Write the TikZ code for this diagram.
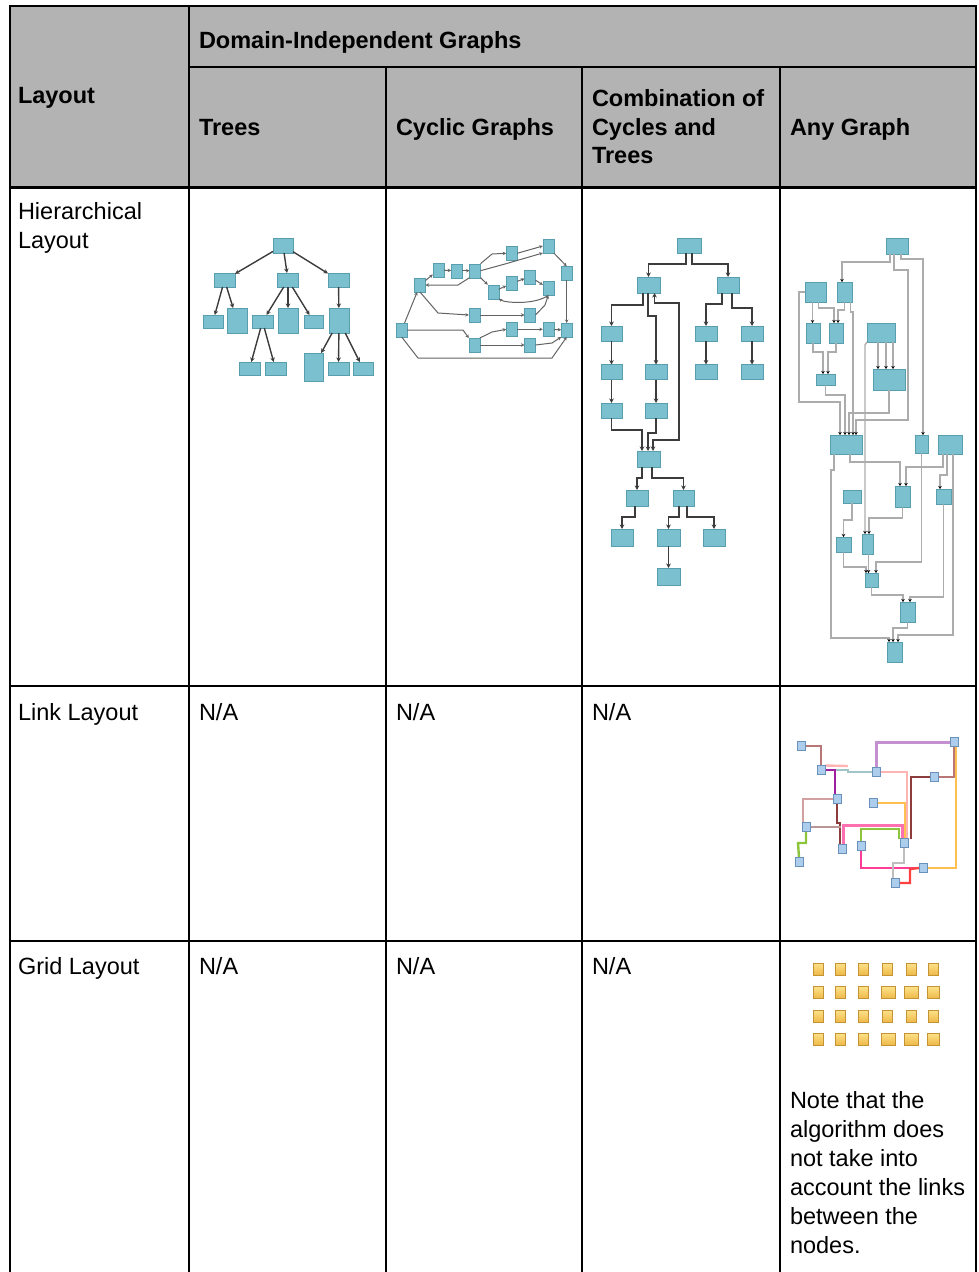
\documentclass[tikz,border=0pt]{standalone}
\usepackage{fontspec}
\setmainfont{Liberation Sans}
\usetikzlibrary{arrows.meta,shadows}

\definecolor{hdrgray}{RGB}{179,179,179}
\definecolor{hnfill}{RGB}{122,192,206}
\definecolor{hnline}{RGB}{88,158,174}
\definecolor{edgedark}{RGB}{60,60,60}
\definecolor{lnfill}{RGB}{172,206,236}
\definecolor{lnline}{RGB}{105,145,185}
\definecolor{goldtop}{RGB}{253,226,138}
\definecolor{goldbot}{RGB}{238,184,72}
\definecolor{goldline}{RGB}{196,148,52}
\definecolor{lkbrown}{RGB}{185,118,118}
\definecolor{lkteal}{RGB}{160,196,200}
\definecolor{lkpurple}{RGB}{160,32,160}
\definecolor{lkviolet}{RGB}{196,144,210}
\definecolor{lkpink}{RGB}{255,180,180}
\definecolor{lkdbrown}{RGB}{140,60,60}
\definecolor{lkorange}{RGB}{255,192,80}
\definecolor{lkrose}{RGB}{210,160,160}
\definecolor{lkgreen}{RGB}{140,196,60}
\definecolor{lkhot}{RGB}{255,112,176}
\definecolor{lkmag}{RGB}{255,60,150}
\definecolor{lkgray}{RGB}{190,190,190}
\definecolor{lkred}{RGB}{255,64,64}

\newcommand{\hb}[5]{\node[hn, minimum width=#4pt, minimum height=#5pt] (#1) at (#2,#3) {};}
\newcommand{\lb}[3]{\node[ln] (#1) at (#2,#3) {};}
\newcommand{\gb}[4]{\node[gd, minimum width=#4pt] (#1) at (#2,#3) {};}

\begin{document}
\begin{tikzpicture}[x=1pt,y=-1pt,
  every node/.style={inner sep=0pt, outer sep=0pt},
  txt/.style={anchor=base west, font=\fontsize{23.5}{28.5}\selectfont},
  hd/.style={anchor=base west, font=\fontsize{23.5}{28.5}\selectfont\bfseries},
  hn/.style={rectangle, draw=hnline, line width=0.4pt, fill=hnfill,
    drop shadow={shadow xshift=0.8pt, shadow yshift=-0.8pt, opacity=0.3, fill=black}},
  tedge/.style={draw=edgedark, line width=1.4pt, -{Stealth[length=4.5pt,width=4.5pt]}},
  cedge/.style={draw=edgedark!80, line width=1pt, -{Stealth[length=3.5pt,width=3.5pt]}},
  gedge/.style={draw=gray!65, line width=1.3pt, -{Stealth[length=3pt,width=3.5pt,black]}},
  ln/.style={rectangle, draw=lnline, fill=lnfill, line width=0.5pt, minimum width=8pt, minimum height=9pt},
  lk/.style={line width=2.4pt},
  gd/.style={rectangle, draw=goldline, line width=0.5pt, top color=goldtop, bottom color=goldbot, minimum height=12pt},
  grid line/.style={line width=1.8pt},
  frame line/.style={line width=2.6pt}
]
\useasboundingbox (0,0) rectangle (978,1272);

% ---------- table ----------
\fill[hdrgray] (10,6) rectangle (976,187);
\draw[grid line] (189,67) -- (976,67);
\draw[grid line] (189,6) -- (189,1272);
\draw[grid line] (386,67) -- (386,1272);
\draw[grid line] (582,67) -- (582,1272);
\draw[grid line] (780,67) -- (780,1272);
\draw[frame line] (10,1272) -- (10,6) -- (976,6) -- (976,1272);
\draw[line width=3pt] (10,187) -- (976,187);
\draw[frame line] (10,686) -- (976,686);
\draw[frame line] (10,941) -- (976,941);

% ---------- header texts ----------
\node[hd] (hLayout) at (18,103) {Layout};
\node[hd] (hDomain) at (199,48) {Domain-Independent Graphs};
\node[hd] (hTrees) at (199,135) {Trees};
\node[hd] (hCyclic) at (396,135) {Cyclic Graphs};
\node[hd] (hComb1) at (592,106) {Combination of};
\node[hd] (hComb2) at (592,135) {Cycles and};
\node[hd] (hComb3) at (592,163) {Trees};
\node[hd] (hAny) at (790,135) {Any Graph};

% ---------- row texts ----------
\node[txt] (rHier1) at (18,219) {Hierarchical};
\node[txt] (rHier2) at (18,248) {Layout};
\node[txt] (rLink) at (18,720) {Link Layout};
\node[txt] (rGrid) at (18,974) {Grid Layout};
\node[txt] (naL1) at (199,720) {N/A};
\node[txt] (naL2) at (396,720) {N/A};
\node[txt] (naL3) at (592,720) {N/A};
\node[txt] (naG1) at (199,974) {N/A};
\node[txt] (naG2) at (396,974) {N/A};
\node[txt] (naG3) at (592,974) {N/A};
\node[txt] (note1) at (790,1108) {Note that the};
\node[txt] (note2) at (790,1137) {algorithm does};
\node[txt] (note3) at (790,1166) {not take into};
\node[txt] (note4) at (790,1195) {account the links};
\node[txt] (note5) at (790,1224) {between the};
\node[txt] (note6) at (790,1253) {nodes.};

% ---------- hierarchical: trees ----------
\hb{tr}{283}{245.5}{20}{15}
\hb{ta1}{224.5}{280}{21}{14}
\hb{ta2}{288}{280}{21}{14}
\hb{ta3}{338.5}{280}{21}{14}
\hb{tb1}{213}{321.5}{20}{13}
\hb{tb2}{237}{320.5}{20}{25}
\hb{tb3}{262.5}{321.5}{21}{13}
\hb{tb4}{288}{320.5}{20}{25}
\hb{tb5}{313.5}{321.5}{19}{13}
\hb{tb6}{339}{320.5}{20}{25}
\hb{tc1}{249.5}{368.5}{21}{13}
\hb{tc2}{275.5}{368.5}{21}{13}
\hb{tc3}{313.5}{367}{19}{28}
\hb{tc4}{338.5}{368.5}{21}{13}
\hb{tc5}{363}{368.5}{20}{13}
\draw[tedge] (tr) -- (ta1);
\draw[tedge] (tr) -- (ta2);
\draw[tedge] (tr) -- (ta3);
\draw[tedge] (ta1) -- (tb1);
\draw[tedge] (ta1) -- (tb2);
\draw[tedge] (ta2) -- (tb3);
\draw[tedge] (ta2) -- (tb4);
\draw[tedge] (ta2) -- (tb5);
\draw[tedge] (ta3) -- (tb6);
\draw[tedge] (tb3) -- (tc1);
\draw[tedge] (tb3) -- (tc2);
\draw[tedge] (tb6) -- (tc3);
\draw[tedge] (tb6) -- (tc4);
\draw[tedge] (tb6) -- (tc5);

% ---------- hierarchical: cyclic graphs ----------
\hb{c1}{511.7}{253.3}{11}{14}
\hb{c2}{548.3}{246}{11}{14}
\hb{c3}{438.3}{270}{11}{14}
\hb{c4}{456.7}{270.7}{11}{14}
\hb{c5}{475}{270.7}{11}{14}
\hb{c6}{420}{285}{11}{14}
\hb{c7}{493.3}{291.7}{11}{14}
\hb{c8}{511.7}{283.3}{11}{14}
\hb{c9}{530}{276.7}{11}{14}
\hb{c10}{566.7}{273.3}{11}{14}
\hb{c11}{548.3}{288.3}{11}{14}
\hb{c12}{474.3}{315}{11}{14}
\hb{c13}{530}{315}{11}{14}
\hb{c14}{401.7}{330}{11}{14}
\hb{c15}{511.7}{329.3}{11}{14}
\hb{c16}{548.3}{329.3}{11}{14}
\hb{c17}{566.7}{330}{11}{14}
\hb{c18}{474.3}{345}{11}{14}
\hb{c19}{530}{345}{11}{14}
\draw[cedge] (c14) -- (c6);
\draw[cedge] (c6) -- (c3);
\draw[cedge] (c3) -- (c4);
\draw[cedge] (c4) -- (c5);
\draw[cedge] (c5.south west) -- (458,285) -- (c6.east);
\draw[cedge] (c5.north east) -- (492,254) -- (c1.west);
\draw[cedge] (c1.east) -- (c2.west);
\draw[cedge] (c5.east) -- (505,264) -- (c2.south west);
\draw[cedge] (c2.south east) -- (c10.north);
\draw[cedge] (c5.south east) -- (c7.north west);
\draw[cedge] (c7) -- (c8);
\draw[cedge] (c8) -- (c9);
\draw[cedge] (c9) -- (c11);
\draw[cedge] (c11.south) .. controls (535,305) and (505,303) .. (c7.south east);
\draw[cedge] (c6.south) -- (438,313) -- (c12.west);
\draw[cedge] (c12) -- (c13);
\draw[cedge] (c13.east) -- (545,305) -- (c11.south);
\draw[cedge] (c14.east) -- (463,330) -- (c18.north west);
\draw[cedge] (c18.north east) -- (492,332) -- (c15.west);
\draw[cedge] (c15) -- (c16);
\draw[cedge] (c16) -- (c17);
\draw[cedge] (c18) -- (c19);
\draw[cedge] (c19.east) -- (552,343) -- (c17.south west);
\draw[cedge] (c14.south) -- (418,358) -- (552,358) -- (c17.south);
\draw[cedge] (c10.south) -- (c17.north);

% ---------- hierarchical: combination of cycles and trees ----------
\hb{kR}{689}{245.5}{24}{15}
\hb{kL}{648.5}{285}{23}{16}
\hb{kRr}{728}{285}{22}{16}
\hb{ka2}{611.5}{333.5}{21}{15}
\hb{ka3}{611.5}{372}{21}{15}
\hb{ka4}{611.5}{410.5}{21}{15}
\hb{kb3}{656}{372}{22}{15}
\hb{kb4}{656}{410.5}{22}{15}
\hb{kc2}{706}{333.5}{22}{15}
\hb{kc3}{706}{372}{22}{15}
\hb{kd2}{752}{333.5}{22}{15}
\hb{kd3}{752}{372}{22}{15}
\hb{kM}{648.5}{459}{23}{16}
\hb{kN1}{637}{498}{22}{16}
\hb{kN2}{683.5}{498}{21}{16}
\hb{kP1}{622}{537.5}{22}{17}
\hb{kP2}{668.5}{537.5}{23}{17}
\hb{kP3}{714}{537.5}{22}{17}
\hb{kQ}{668.5}{576.5}{23}{17}
\draw[tedge] ([xshift=-3pt]kR.south) -- (686,264) -- (648.5,264) -- (kL.north);
\draw[tedge] ([xshift=3pt]kR.south) -- (692,264) -- (728,264) -- (kRr.north);
\draw[tedge] ([xshift=-5.5pt]kL.south) -- (643,305) -- (611.5,305) -- (ka2.north);
\draw[tedge] ([xshift=-0.5pt]kL.south) -- (648,316) -- (656,316) -- (kb3.north);
\draw[tedge, {Stealth[length=4.5pt,width=4.5pt]}-{Stealth[length=4.5pt,width=4.5pt]}]
  ([xshift=6pt]kL.south) -- (654.5,303) -- (679,303) -- (679,440) -- (653,440) -- ([xshift=4.5pt]kM.north);
\draw[tedge] (ka2) -- (ka3);
\draw[tedge] (ka3) -- (ka4);
\draw[tedge] (kb3) -- (kb4);
\draw[tedge] ([xshift=-6pt]kRr.south) -- (722,304) -- (706,304) -- (kc2.north);
\draw[tedge] ([xshift=4pt]kRr.south) -- (732,308) -- (752,308) -- (kd2.north);
\draw[tedge] (kc2) -- (kc3);
\draw[tedge] (kd2) -- (kd3);
\draw[tedge] (ka4.south) -- (611.5,430) -- (642,430) -- ([xshift=-6.5pt]kM.north);
\draw[tedge] (kb4.south) -- (656,433) -- (648,433) -- ([xshift=-0.5pt]kM.north);
\draw[tedge] ([xshift=-6.5pt]kM.south) -- (642,478) -- (637,478) -- (kN1.north);
\draw[tedge] ([xshift=3.5pt]kM.south) -- (652,478) -- (683.5,478) -- (kN2.north);
\draw[tedge] ([xshift=-2pt]kN1.south) -- (635,517) -- (622,517) -- (kP1.north);
\draw[tedge] ([xshift=-4.5pt]kN2.south) -- (679,517) -- (668.5,517) -- (kP2.north);
\draw[tedge] ([xshift=3.5pt]kN2.south) -- (687,517) -- (714,517) -- (kP3.north);
\draw[tedge] (kP2) -- (kQ);

% ---------- hierarchical: any graph ----------
\hb{gT}{897}{246}{22}{16}
\hb{gA1}{815.5}{292}{21}{20}
\hb{gA2}{844.5}{292}{15}{20}
\hb{gB1}{813}{333}{14}{20}
\hb{gB2}{836}{333}{14}{20}
\hb{gC}{881}{332.5}{28}{19}
\hb{gD}{889}{379.5}{32}{21}
\hb{gE}{825.5}{379.5}{19}{11}
\hb{gF}{846}{444.5}{32}{19}
\hb{gG}{921.5}{444}{13}{18}
\hb{gH}{950}{444.5}{24}{19}
\hb{gI}{852}{496.5}{18}{13}
\hb{gJ}{902.5}{496.5}{15}{21}
\hb{gK}{943.5}{496.5}{15}{15}
\hb{gL}{843.5}{544.5}{15}{15}
\hb{gM}{867.5}{544}{11}{20}
\hb{gN}{871.5}{580}{13}{14}
\hb{gO}{907.5}{612}{15}{20}
\hb{gP}{894.5}{652}{15}{20}
\draw[gedge] ([xshift=-7pt]gT.south) -- (890,262) -- (842,262) -- ([xshift=-2.5pt]gA2.north);
\draw[gedge] ([xshift=4pt]gT.south) -- (901,259) -- (923,259) -- ([xshift=1.5pt]gG.north);
\draw[gedge] ([xshift=-3pt]gT.south) -- (894,270) -- (908,270) -- (908,420) -- (856,420) -- ([xshift=10pt]gF.north);
\draw[gedge] ([xshift=-3pt]gA1.south) -- ([xshift=-0.5pt]gB1.north);
\draw[gedge] ([xshift=3pt]gA1.south) -- (818.5,308) -- (834,308) -- ([xshift=-2pt]gB2.north);
\draw[gedge] (gA2.south) -- (844.5,310) -- (838,310) -- ([xshift=2pt]gB2.north);
\draw[gedge] (gB1.south) -- (813,352) -- (823,352) -- ([xshift=-2.5pt]gE.north);
\draw[gedge] (gB2.south) -- (836,352) -- (828,352) -- ([xshift=2.5pt]gE.north);
\draw[gedge] ([xshift=-3pt]gC.south) -- ([xshift=-11pt]gD.north);
\draw[gedge] ([xshift=5pt]gC.south) -- ([xshift=-3pt]gD.north);
\draw[gedge] ([xshift=12pt]gC.south) -- ([xshift=4pt]gD.north);
\draw[gedge] (gA1.west) -- (799,292) -- (799,402) -- (840,402) -- ([xshift=-6pt]gF.north);
\draw[gedge] ([xshift=6pt]gA2.south) -- (850.5,312) -- (853,312) -- ([xshift=7pt]gF.north);
\draw[gedge] (gE.south) -- (825.5,395) -- (845,395) -- ([xshift=-1pt]gF.north);
\draw[gedge] (gD.south) -- (889,413) -- (849,413) -- ([xshift=3pt]gF.north);
\draw[gedge] (gC.south west) -- (865,345) -- ([xshift=-2.5pt]gM.north);
\draw[gedge] ([xshift=4pt]gF.south) -- (850,462) -- (900,462) -- ([xshift=-2.5pt]gJ.north);
\draw[gedge] ([xshift=-7pt]gH.south) -- (943,467) -- (906,467) -- ([xshift=3.5pt]gJ.north);
\draw[gedge] ([xshift=-3pt]gH.south) -- (947,475) -- (940,475) -- ([xshift=-3.5pt]gK.north);
\draw[gedge] ([xshift=3pt]gH.south) -- (953,635) -- (898,635) -- ([xshift=3.5pt]gP.north);
\draw[gedge] (gG.south) -- (921.5,562) -- (876,562) -- ([xshift=4.5pt]gN.north);
\draw[gedge] (gI.south) -- (852,520) -- (843.5,520) -- (gL.north);
\draw[gedge] (gJ.south) -- (902.5,518) -- (869,518) -- ([xshift=1.5pt]gM.north);
\draw[gedge] (gL.south) -- (843.5,567) -- (866,567) -- ([xshift=-5.5pt]gN.north);
\draw[gedge] ([xshift=1pt]gM.south) -- ([xshift=-3pt]gN.north);
\draw[gedge] (gN.south) -- (871.5,595) -- (903,595) -- ([xshift=-4.5pt]gO.north);
\draw[gedge] (gK.south) -- (943.5,597) -- (910,597) -- ([xshift=2.5pt]gO.north);
\draw[gedge] (gO.south) -- (907.5,628) -- (893,628) -- ([xshift=-1.5pt]gP.north);
\draw[gedge] ([xshift=-12pt]gF.south) -- (834,470) -- (831,470) -- (831,638) -- (889,638) -- ([xshift=-5.5pt]gP.north);

% ---------- link layout ----------
\lb{l1}{801}{746}
\lb{l2}{821}{770}
\lb{l3}{876}{772}
\lb{l4}{954}{742}
\lb{l5}{934}{777}
\lb{l6}{837}{799}
\lb{l7}{873}{803}
\lb{l8}{806}{827}
\lb{l9}{842}{849}
\lb{l10}{861}{846}
\lb{l11}{904}{843}
\lb{l12}{799}{862}
\lb{l13}{923}{868}
\lb{l14}{895}{883}
\draw[lk, lkbrown] (l1.east) -| (l2.north);
\draw[lk, lkteal] (l2.east) -- (848,770) -- (848,772) -- (l3.west);
\draw[lk, lkpink] (l2.north east) -- (848,766);
\draw[lk, lkpurple] (l2.east) -| ([xshift=-2pt]l6.north);
\draw[lk, lkviolet, line width=3pt] (l3.north) |- (l4.west);
\draw[lk, lkpink] (l3.east) -| ([xshift=3pt]l11.north);
\draw[lk, lkbrown] (l4.south) |- (l5.east);
\draw[lk, lkdbrown] (l5.west) -| ([xshift=3pt]l11.north east);
\draw[lk, lkorange] ([xshift=2pt]l4.south) |- (l13.east);
\draw[lk, lkorange] (l7.east) -| ([xshift=1pt]l11.north);
\draw[lk, lkrose] (l6.west) -| ([xshift=-3pt]l8.north);
\draw[lk, lkdbrown] (l6.south) -- (837,823) -- (840,823) -- ([xshift=-2pt]l9.north);
\draw[lk, lkrose!70!gray] (l8.east) -- (841,827);
\draw[lk, lkgreen] (l8.south) -- (806,843) -- (798,843) -- (l12.north);
\draw[lk, lkhot, line width=3pt] ([xshift=1pt]l9.north) -- (843,825) -- (902,825) -- ([xshift=-2pt]l11.north);
\draw[lk, lkgreen] (l10.north) -- (861,829) -- (899,829) -- ([xshift=-5pt]l11.north);
\draw[lk, lkmag] (l10.south) |- (l13.west);
\draw[lk, lkgray] (l11.south) -- (904,863) -- (893,863) -- ([xshift=-2pt]l14.north);
\draw[lk, lkred] (l14.east) -- (910,883) -- (910,869) -- (l13.west);
% link nodes painted again over the link ends
\foreach \n in {l1,l2,l3,l4,l5,l6,l7,l8,l9,l10,l11,l12,l13,l14}
  \filldraw[fill=lnfill, draw=lnline, line width=0.5pt] (\n.south west) rectangle (\n.north east);

% ---------- grid layout ----------
\gb{q11}{818}{969}{10} \gb{q12}{840}{969}{10} \gb{q13}{863}{969}{10}
\gb{q14}{887.5}{969}{10} \gb{q15}{911}{969}{10} \gb{q16}{933}{969}{10}
\gb{q21}{818}{992.5}{10} \gb{q22}{840}{992.5}{10} \gb{q23}{863}{992.5}{10}
\gb{q24}{888}{992.5}{14} \gb{q25}{911}{992.5}{14} \gb{q26}{933}{992.5}{12}
\gb{q31}{818}{1016}{10} \gb{q32}{840}{1016}{10} \gb{q33}{863}{1016}{10}
\gb{q34}{887.5}{1016}{10} \gb{q35}{911}{1016}{10} \gb{q36}{933}{1016}{10}
\gb{q41}{818}{1039}{10} \gb{q42}{840}{1039}{10} \gb{q43}{863}{1039}{10}
\gb{q44}{888}{1039}{14} \gb{q45}{911}{1039}{14} \gb{q46}{933}{1039}{12}
\end{tikzpicture}
\end{document}
